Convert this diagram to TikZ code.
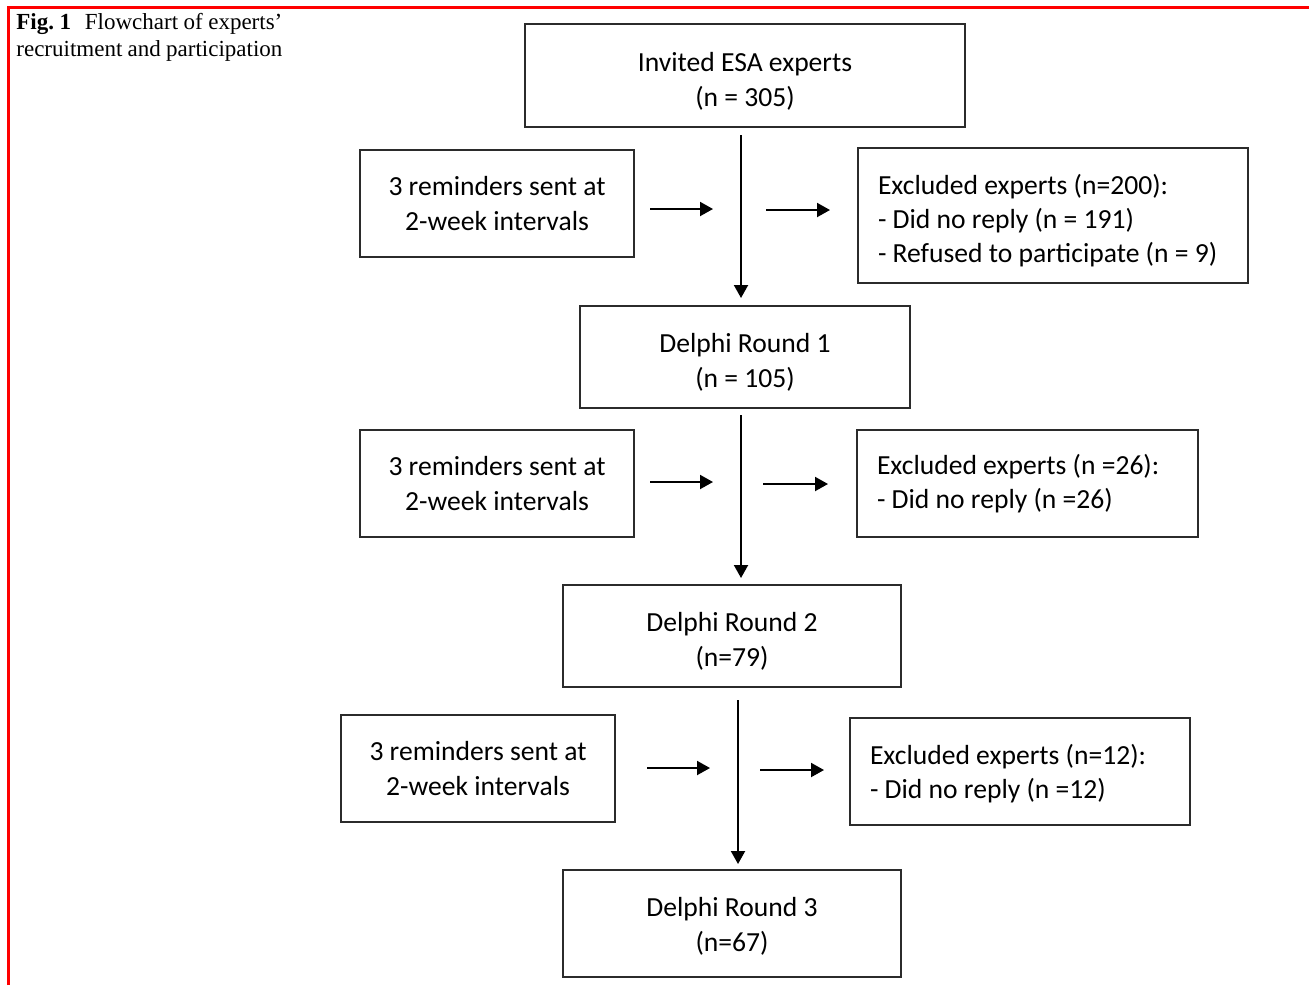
\documentclass[tikz,border=0pt]{standalone}
\usepackage{fontspec}
\setmainfont{Liberation Serif}
\newfontfamily\boxfont{Carlito}
\usetikzlibrary{arrows.meta}
\definecolor{edge}{HTML}{2B2B2B}
\definecolor{frame}{HTML}{FF0000}
\newcommand{\tstrut}{\rule{0pt}{15pt}}
\newcommand{\hstrut}{\rule{0pt}{12.5pt}}
\tikzset{
  box/.style={draw=edge, line width=1pt, rectangle, inner sep=0pt, align=center,
    font=\boxfont\fontsize{13.8}{17.5}\selectfont},
  exbox/.style={draw=edge, line width=1pt, rectangle, inner ysep=0pt, inner xsep=10pt, align=flush left,
    font=\boxfont\fontsize{13.8}{17}\selectfont},
  flow/.style={line width=1pt, draw=black, -{Triangle[length=6.5pt,width=7pt]}},
  captxt/.style={anchor=base west, inner sep=0pt, font=\fontsize{11.5}{13.5}\selectfont},
}
\begin{document}
\begin{tikzpicture}[x=0.5pt,y=-0.5pt]
\useasboundingbox (0,0) rectangle (1309,985);
% red frame
\draw[frame, line width=1.5pt] (8.5,985) -- (8.5,7.5) -- (1309,7.5);
% caption
\node[captxt] (cap1) at (16,29)
  {\makebox[133pt][s]{\textbf{Fig.\ 1}\hspace{0.6em}Flowchart of experts’}};
\node[captxt] (cap2) at (16,56)
  {\makebox[133pt][s]{recruitment and participation}};
% main boxes
\node[box, minimum width=220pt, minimum height=51.5pt] (inv) at (745,75.5) {\tstrut Invited ESA experts\\(n = 305)};
\node[box, minimum width=165pt, minimum height=51pt] (d1) at (745,357) {\tstrut Delphi Round 1\\(n = 105)};
\node[box, minimum width=169pt, minimum height=51pt] (d2) at (732,636) {\tstrut Delphi Round 2\\(n=79)};
\node[box, minimum width=169pt, minimum height=53.5pt] (d3) at (732,923.5) {\hstrut Delphi Round 3\\(n=67)};
% reminder boxes
\node[box, minimum width=137pt, minimum height=53.5pt] (r1) at (497,203.5) {3 reminders sent at\\2-week intervals};
\node[box, minimum width=137pt, minimum height=53.5pt] (r2) at (497,483.5) {3 reminders sent at\\2-week intervals};
\node[box, minimum width=137pt, minimum height=53.5pt] (r3) at (478,768.5) {3 reminders sent at\\2-week intervals};
% excluded boxes
\node[exbox, text width=175pt, minimum height=67.5pt, anchor=west] (e1) at (857,215.5)
  {\tstrut Excluded experts (n=200):\\- Did no reply (n = 191)\\- Refused to participate (n = 9)};
\node[exbox, text width=150.5pt, minimum height=53.5pt, anchor=west] (e2) at (856,483.5)
  {Excluded experts (n =26):\\- Did no reply (n =26)};
\node[exbox, text width=150pt, minimum height=53.5pt, anchor=west] (e3) at (849,771.5)
  {\hstrut Excluded experts (n=12):\\- Did no reply (n =12)};
% free ends of arrows
\coordinate (a1s) at (650,209); \coordinate (a1e) at (713,209);
\coordinate (b1s) at (766,210); \coordinate (b1e) at (830,210);
\coordinate (a2s) at (650,482); \coordinate (a2e) at (713,482);
\coordinate (b2s) at (763,484); \coordinate (b2e) at (828,484);
\coordinate (a3s) at (647,768); \coordinate (a3e) at (710,768);
\coordinate (b3s) at (760,770); \coordinate (b3e) at (824,770);
\coordinate (v1s) at (741,135); \coordinate (v1e) at (741,298);
\coordinate (v2s) at (741,415); \coordinate (v2e) at (741,578);
\coordinate (v3s) at (738,700); \coordinate (v3e) at (738,864);
% arrows
\draw[flow] (v1s) -- (v1e);
\draw[flow] (v2s) -- (v2e);
\draw[flow] (v3s) -- (v3e);
\draw[flow] (a1s) -- (a1e);
\draw[flow] (b1s) -- (b1e);
\draw[flow] (a2s) -- (a2e);
\draw[flow] (b2s) -- (b2e);
\draw[flow] (a3s) -- (a3e);
\draw[flow] (b3s) -- (b3e);
\end{tikzpicture}
\end{document}
